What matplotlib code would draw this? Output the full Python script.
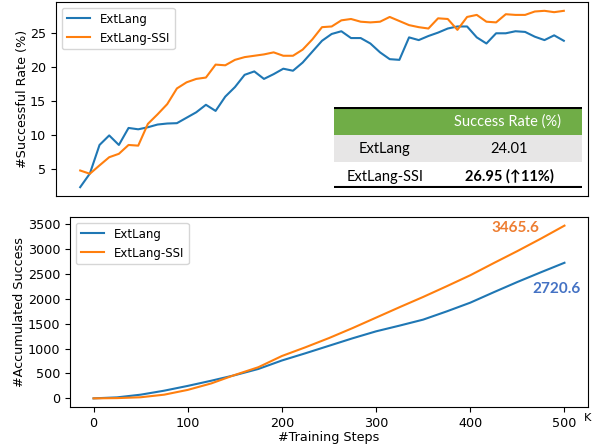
import matplotlib
matplotlib.use("Agg")
import matplotlib.pyplot as plt
from matplotlib.patches import Rectangle

# success rate (%) every 10K training steps
steps = list(range(0, 501, 10))
rate_extlang = [2.3, 4.3, 8.5, 9.9, 8.5, 11.0, 10.8, 11.1, 11.5, 11.65,
                11.7, 12.5, 13.3, 14.4, 13.5, 15.6, 17.0, 18.8, 19.3, 18.2,
                18.9, 19.7, 19.4, 20.6, 22.2, 23.8, 24.8, 25.2, 24.2, 24.2,
                23.4, 22.1, 21.1, 21.0, 24.3, 23.9, 24.5, 25.0, 25.6, 25.9,
                25.9, 24.3, 23.4, 24.9, 24.9, 25.2, 25.1, 24.4, 23.9, 24.6, 23.8]
rate_ssi = [4.75, 4.27, 5.5, 6.7, 7.2, 8.5, 8.4, 11.6, 13.0, 14.5,
            16.8, 17.7, 18.2, 18.4, 20.3, 20.2, 21.0, 21.4, 21.6, 21.8,
            22.1, 21.6, 21.6, 22.5, 24.0, 25.8, 25.9, 26.8, 27.0, 26.6,
            26.5, 26.6, 27.3, 26.7, 26.1, 25.8, 25.6, 27.1, 27.0, 25.4,
            27.3, 27.6, 26.6, 26.5, 27.7, 27.6, 27.6, 28.1, 28.2, 28.0, 28.2]

# accumulated successes every 25K steps
acc_steps = list(range(0, 501, 25))
acc_extlang = [0, 20, 74, 154, 250, 354, 465, 590, 760, 905, 1055,
               1205, 1345, 1460, 1580, 1745, 1920, 2130, 2335, 2530, 2720.6]
acc_ssi = [0, 5, 22, 74, 170, 300, 470, 625, 850, 1025, 1210,
           1410, 1620, 1830, 2035, 2250, 2470, 2715, 2955, 3205, 3465.6]

table_header = "Success Rate (%)"
table_rows = ["ExtLang", "ExtLang-SSI"]
table_vals = ["24.01", "26.95 (\u219111%)"]

W, H = 597, 446
fs = 9.2
fig = plt.figure(figsize=(W / 100, H / 100), dpi=100)

def box(l, t, r, b):
    return [l / W, 1 - b / H, (r - l) / W, (b - t) / H]

# top: success rate
ax1 = fig.add_axes(box(56, 2, 588, 196))
ax1.plot(steps, rate_extlang, color="tab:blue", lw=1.5, label="ExtLang")
ax1.plot(steps, rate_ssi, color="tab:orange", lw=1.5, label="ExtLang-SSI")
ax1.set_xticks([])
ax1.set_yticks([5, 10, 15, 20, 25])
ax1.tick_params(labelsize=fs)
ax1.set_ylabel("#Successful Rate (%)", fontsize=fs, labelpad=1)
ax1.legend(loc="upper left", fontsize=8.5)

# summary table
axt = fig.add_axes(box(334, 107, 582, 188))
axt.set_xlim(334, 582)
axt.set_ylim(188, 107)
axt.axis("off")
tfont = ["Lato", "DejaVu Sans"]
axt.add_patch(Rectangle((334, 108), 248, 27, color="#70AD47", lw=0))
axt.add_patch(Rectangle((334, 135), 248, 27, color="#E7E6E6", lw=0))
axt.plot([334, 582], [108, 108], color="black", lw=1.5)
axt.plot([334, 582], [187, 187], color="black", lw=1.5)
axt.text(508, 122, table_header, color="white", fontsize=10.5,
         ha="center", va="center", family=tfont)
for i, (name, val) in enumerate(zip(table_rows, table_vals)):
    y = 149 + 27.5 * i
    axt.text(385, y, name, fontsize=10.5, ha="center", va="center", family=tfont)
    axt.text(509, y, val, fontsize=10.5, ha="center", va="center", family=tfont,
             fontweight="bold" if i == 1 else "normal")

# bottom: accumulated success
ax2 = fig.add_axes(box(70, 217, 588, 407))
ax2.plot(acc_steps, acc_extlang, color="tab:blue", lw=1.5, label="ExtLang")
ax2.plot(acc_steps, acc_ssi, color="tab:orange", lw=1.5, label="ExtLang-SSI")
ax2.set_xticks([0, 100, 200, 300, 400, 500])
ax2.set_yticks(range(0, 3501, 500))
ax2.tick_params(labelsize=fs)
ax2.set_xlabel("#Training Steps", fontsize=fs, labelpad=1)
ax2.set_ylabel("#Accumulated Success", fontsize=fs, labelpad=1)
ax2.legend(loc="upper left", fontsize=8.5)
ax2.text(0.992, -0.058, "K", transform=ax2.transAxes, fontsize=fs - 1, va="center")

ax2.annotate(f"{acc_ssi[-1]:.1f}", (acc_steps[-1], acc_ssi[-1]), xytext=(-35, -1.5),
             textcoords="offset points", color="#ED7D31", fontsize=11,
             fontweight="bold", ha="center", va="center", family=tfont)
ax2.annotate(f"{acc_extlang[-1]:.1f}", (acc_steps[-1], acc_extlang[-1]), xytext=(-5.4, -18.7),
             textcoords="offset points", color="#4472C4", fontsize=11,
             fontweight="bold", ha="center", va="center", family=tfont)

fig.savefig("out.png", dpi=100)
